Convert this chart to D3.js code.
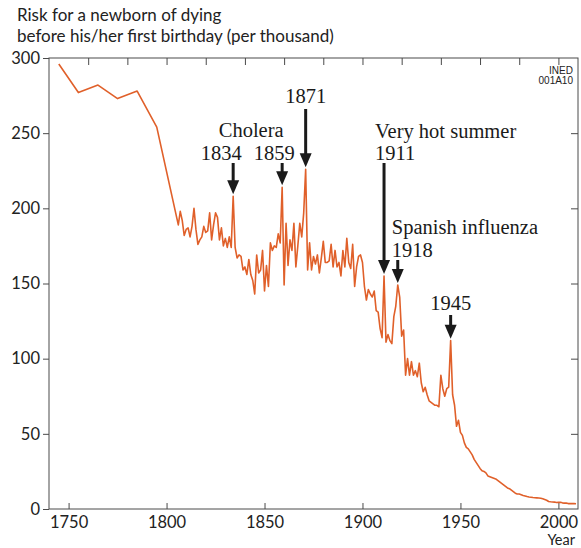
<!DOCTYPE html>
<html><head><meta charset="utf-8">
<script src="https://cdn.jsdelivr.net/npm/d3@7"></script>
<style>body{margin:0;background:#fff}svg{display:block}</style>
</head><body>
<svg id="c" width="581" height="548"></svg>
<script>
// Early decade points (year, value)
const earlyYears = [1745, 1755, 1765, 1775, 1785, 1795];
const earlyValues = [296, 277, 282, 273, 278, 254];
// Annual series starting 1806
const annualStart = 1806;
const annualValues = [
 189,198,192,182,186,187,181,188,200,186, // 1806-1815
 176,179,181,188,184,185,197,179,189,197, // 1816-1825
 194,179,187,175,180,174,181,174,208,174, // 1826-1835
 167,169,168,159,161,156,166,156,152,143, // 1836-1845
 169,157,159,172,145,162,148,177,172,175, // 1846-1855
 174,183,177,214,149,190,162,179,172,190, // 1856-1865
 161,175,190,181,197,226,159,177,159,168, // 1866-1875
 163,169,157,167,178,164,164,165,176,161, // 1876-1885
 172,161,164,155,172,161,180,164,160,176, // 1886-1895
 148,161,168,169,164,148,139,146,143,141, // 1896-1905
 145,132,131,120,114,155,111,116,112,110, // 1906-1915
 128,135,149,141,115,119,89,100,89,98,    // 1916-1925
 89,92,88,97,84,78,81,76,72,71,           // 1926-1935
 70,69,69,68,89,80,75,80,81,112,          // 1936-1945
 76,69,55,59,51,49,44,41,40,38,           // 1946-1955
 36,33,31,29,27,25.5,25,24,22,21.5,       // 1956-1965
 21,20.5,20,19,18,17,16,15,14,13.5,       // 1966-1975
 12.5,11.5,10.5,10,10,9.5,9,8.7,8.3,8,    // 1976-1985
 7.8,7.6,7.5,7.4,7.3,7.2,6.8,6.3,5.8,5,   // 1986-1995
 4.8,4.7,4.6,4.3,4.4,4.5,4.1,3.9,3.9,3.6, // 1996-2005
 3.6,3.6,3.6,3.5                          // 2006-2009
];
const yTicks = [0, 50, 100, 150, 200, 250, 300];
const xTicks = [1750, 1800, 1850, 1900, 1950, 2000];
const topTicks = [1760,1780,1800,1820,1840,1860,1880,1900,1920,1940,1960,1980,2000];
// Annotations: year of arrow, label lines
const annoYears = [1834, 1859, 1871, 1911, 1918, 1945];
const annoLabels = [["1834"], ["1859"], ["1871"], ["Very hot summer", "1911"], ["Spanish influenza", "1918"], ["1945"]];
const titleLines = ["Risk for a newborn of dying", "before his/her first birthday (per thousand)"];

const data = earlyYears.map((y, i) => ({year: y, value: earlyValues[i]}))
  .concat(annualValues.map((v, i) => ({year: annualStart + i, value: v})));

const svg = d3.select("#c");
const L = 49, R = 578, T = 58, B = 509;
const x = d3.scaleLinear().domain([1740, 2010]).range([L, R]);
const y = d3.scaleLinear().domain([0, 300]).range([B, T]);
const axisColor = "#4a4a4a";
const sans = "Lato, 'Open Sans', sans-serif";
const serif = "'Liberation Serif', 'DejaVu Serif', serif";

// Title
svg.append("g").selectAll("text").data(titleLines).join("text")
  .attr("x", 17).attr("y", (d, i) => 21 + i * 21)
  .attr("font-family", sans).attr("font-size", 17).attr("fill", "#222")
  .text(d => d);

// Frame
svg.append("rect").attr("x", L).attr("y", T).attr("width", R - L).attr("height", B - T)
  .attr("fill", "none").attr("stroke", axisColor).attr("stroke-width", 1);

// Left axis
const gl = svg.append("g").attr("transform", `translate(${L},0)`)
  .call(d3.axisLeft(y).tickValues(yTicks).tickSize(6).tickPadding(3));
// Right axis ticks (inward)
const gr = svg.append("g").attr("transform", `translate(${R},0)`)
  .call(d3.axisRight(y).tickValues(yTicks.slice(1, -1)).tickSize(-7).tickFormat(""));
// Bottom axis (ticks inward)
const gb = svg.append("g").attr("transform", `translate(0,${B})`)
  .call(d3.axisBottom(x).tickValues(xTicks).tickSize(-6).tickPadding(7).tickFormat(d3.format("d")));
// Top axis ticks (inward)
const gt = svg.append("g").attr("transform", `translate(0,${T})`)
  .call(d3.axisTop(x).tickValues(topTicks).tickSize(-7).tickFormat(""));

[gl, gr, gb, gt].forEach(g => {
  g.select(".domain").remove();
  g.selectAll(".tick line").attr("stroke", axisColor);
  g.selectAll(".tick text").attr("font-family", sans).attr("font-size", 16.5).attr("fill", "#222");
});
gb.selectAll(".tick text").attr("dy", "0.72em");

// Year label
svg.append("text").attr("x", 575).attr("y", 545).attr("text-anchor", "end")
  .attr("font-family", sans).attr("font-size", 14.5).attr("fill", "#222").text("Year");

// INED code
svg.append("g").selectAll("text").data(["INED", "001A10"]).join("text")
  .attr("x", 573).attr("y", (d, i) => 74 + i * 10).attr("text-anchor", "end")
  .attr("font-family", "'Liberation Sans Narrow', 'Liberation Sans', sans-serif")
  .attr("font-stretch", "condensed").attr("font-size", 10).attr("fill", "#222")
  .text(d => d);

// Line
svg.append("path").datum(data)
  .attr("fill", "none").attr("stroke", "#e0602a").attr("stroke-width", 1.6)
  .attr("stroke-linejoin", "round")
  .attr("d", d3.line().x(d => x(d.year)).y(d => y(d.value)));

// Annotations
const valueOf = yr => data.find(d => d.year === yr).value;
const shaftTop = {1834: 163, 1859: 163, 1871: 109, 1911: 163, 1918: 260, 1945: 315};
const ga = svg.append("g");
annoYears.forEach((yr, i) => {
  const px = x(yr), tip = y(valueOf(yr)) - 2;
  ga.append("line").attr("x1", px).attr("x2", px).attr("y1", shaftTop[yr]).attr("y2", tip - 10)
    .attr("stroke", "#1a1a1a").attr("stroke-width", 3);
  ga.append("path").attr("d", `M${px - 6},${tip - 14} L${px + 6},${tip - 14} L${px},${tip} Z`)
    .attr("fill", "#1a1a1a");
});
const serifText = (tx, ty, s, anchor) => ga.append("text").attr("x", tx).attr("y", ty)
  .attr("text-anchor", anchor || "middle").attr("font-family", serif).attr("font-size", 20.5)
  .attr("fill", "#1a1a1a").text(s);
serifText(x(1834) + 18, 137, "Cholera");
serifText(x(1834) - 12, 160, annoLabels[0][0]);
serifText(x(1859) - 8, 160, annoLabels[1][0]);
serifText(x(1871), 103, annoLabels[2][0]);
serifText(x(1911) - 9, 138, annoLabels[3][0], "start");
serifText(x(1911) - 9, 160, annoLabels[3][1], "start");
serifText(x(1918) - 6, 234, annoLabels[4][0], "start");
serifText(x(1918) - 6, 257, annoLabels[4][1], "start");
serifText(x(1945), 310, annoLabels[5][0]);
</script>
</body></html>
